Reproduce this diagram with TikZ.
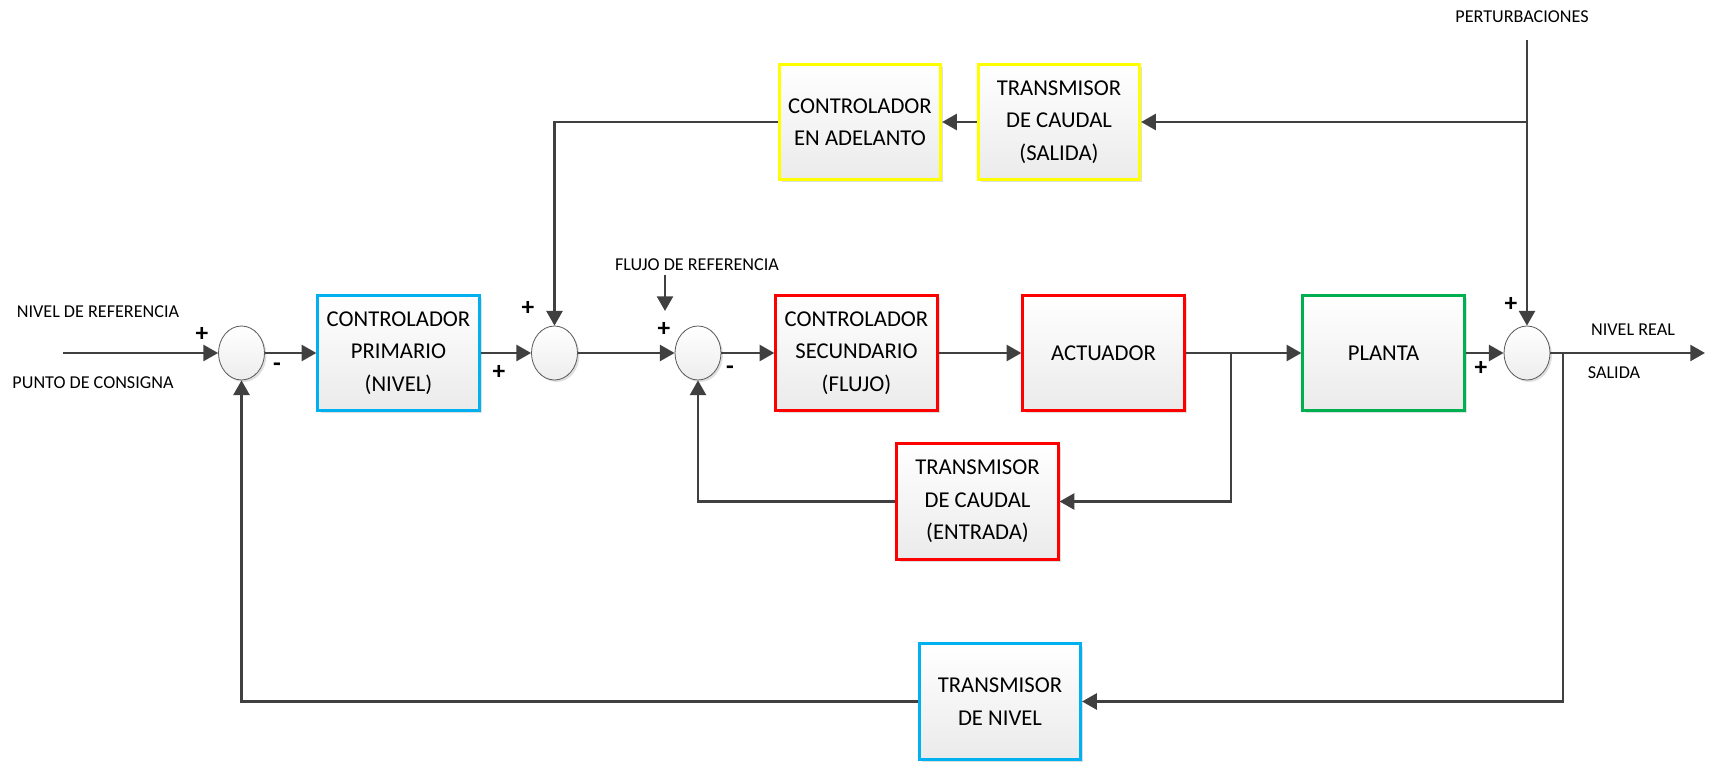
\documentclass[tikz,border=0pt]{standalone}
\usepackage{fontspec}
\setmainfont{Carlito}
\usetikzlibrary{arrows.meta,shapes.geometric,shadows}
\definecolor{ln}{HTML}{404040}
\definecolor{cyanb}{HTML}{00B0F0}
\definecolor{redb}{HTML}{FF0000}
\definecolor{yelb}{HTML}{FFFF00}
\definecolor{grnb}{HTML}{00B050}
\begin{document}
\begin{tikzpicture}[x=0.75pt,y=-0.75pt,
  blk/.style={draw, line width=2.2pt, top color=white, bottom color=gray!16,
    minimum width=121pt, minimum height=86.5pt, inner sep=0pt, align=center,
    font=\fontsize{17}{24.4}\selectfont,
    drop shadow={opacity=0.25, shadow xshift=2pt, shadow yshift=-2pt}},
  sumb/.style={ellipse, draw=gray!70!black, line width=0.6pt, top color=white, bottom color=gray!14,
    minimum width=34.5pt, minimum height=40.5pt, inner sep=0pt,
    drop shadow={opacity=0.25, shadow xshift=1.5pt, shadow yshift=-1.5pt}},
  arr/.style={draw=ln, line width=1.8pt, -{Triangle[length=11pt,width=12pt]}},
  lbl/.style={font=\fontsize{13.6}{16}\selectfont, inner sep=0pt},
  sgn/.style={font=\fontsize{19}{19}\selectfont\bfseries, inner sep=0pt}
]
\useasboundingbox (0,0) rectangle (1711,763);
% blocks
\node[blk, draw=cyanb] (prim) at (398.5,353) {CONTROLADOR\\PRIMARIO\\(NIVEL)};
\node[blk, draw=redb] (sec) at (856.5,353) {CONTROLADOR\\SECUNDARIO\\(FLUJO)};
\node[blk, draw=redb] (act) at (1103.5,353) {ACTUADOR};
\node[blk, draw=grnb] (planta) at (1383.5,353) {PLANTA};
\node[blk, draw=yelb] (adel) at (860,122) {CONTROLADOR\\EN ADELANTO};
\node[blk, draw=yelb] (tsal) at (1059,122) {TRANSMISOR\\DE CAUDAL\\(SALIDA)};
\node[blk, draw=redb] (tent) at (977.5,501.5) {TRANSMISOR\\DE CAUDAL\\(ENTRADA)};
\node[blk, draw=cyanb] (tniv) at (1000,701.5) {TRANSMISOR\\DE NIVEL};
% summing junctions
\node[sumb] (s1) at (241.5,353) {};
\node[sumb] (s2) at (554.5,353) {};
\node[sumb] (s3) at (698,353) {};
\node[sumb] (s4) at (1527,353) {};
% free ends
\coordinate (in) at (63,353);
\coordinate (out) at (1705,353);
\coordinate (pert) at (1527,40);
\coordinate (fr1) at (665,275);
\coordinate (fr2) at (665,311);
\coordinate (j1) at (1231,353);
\coordinate (j2) at (1563,353);
% connectors
\draw[arr] (in) -- (s1.west);
\draw[arr] (s1.east) -- (prim.west);
\draw[arr] (prim.east) -- (s2.west);
\draw[arr] (s2.east) -- (s3.west);
\draw[arr] (s3.east) -- (sec.west);
\draw[arr] (sec.east) -- (act.west);
\draw[arr] (act.east) -- (planta.west);
\draw[arr] (planta.east) -- (s4.west);
\draw[arr] (s4.east) -- (out);
\draw[arr] (pert) -- (s4.north);
\draw[arr] (pert |- tsal.east) -- (tsal.east);
\draw[arr] (tsal.west) -- (adel.east);
\draw[arr] (adel.west) -| (s2.north);
\draw[arr] (j1) |- (tent.east);
\draw[arr] (tent.west) -| (s3.south);
\draw[arr] (j2) |- (tniv.east);
\draw[arr] (tniv.west) -| (s1.south);
\draw[arr] (fr1) -- (fr2);
% labels
\node[lbl] (l1) at (98,312) {NIVEL DE REFERENCIA};
\node[lbl] (l2) at (93,383) {PUNTO DE CONSIGNA};
\node[lbl] (l3) at (697,265) {FLUJO DE REFERENCIA};
\node[lbl] (l4) at (1522,17) {PERTURBACIONES};
\node[lbl] (l5) at (1633,330) {NIVEL REAL};
\node[lbl] (l6) at (1614,373) {SALIDA};
% signs
\node[sgn] (p1) at (202,334) {+};
\node[sgn] (m1) at (277,367) {-};
\node[sgn] (p2) at (499,372) {+};
\node[sgn] (p3) at (528,308) {+};
\node[sgn] (p4) at (664,329) {+};
\node[sgn] (m2) at (730,370) {-};
\node[sgn] (p5) at (1511,304) {+};
\node[sgn] (p6) at (1481,368) {+};
\end{tikzpicture}
\end{document}
